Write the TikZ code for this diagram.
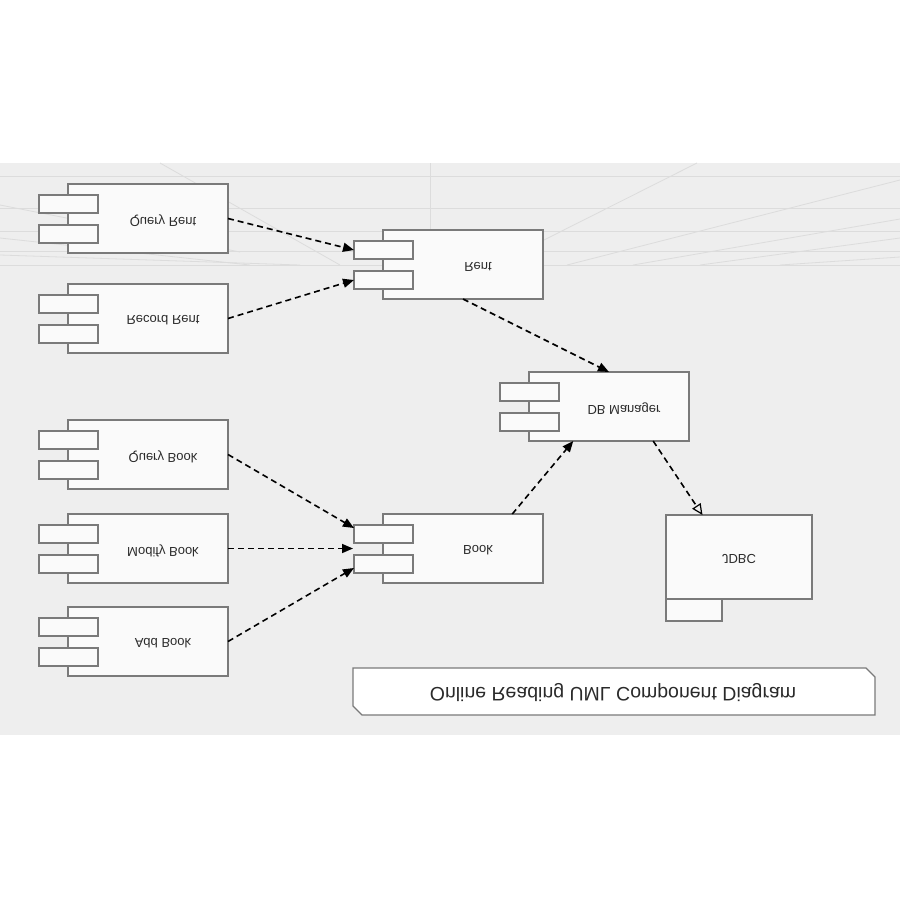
\documentclass[tikz,border=0pt]{standalone}
\usepackage{fontspec}
\setmainfont{Liberation Sans}
\usetikzlibrary{arrows.meta,calc}
\definecolor{bg}{HTML}{EEEEEE}
\definecolor{bgline}{HTML}{DCDCDC}
\definecolor{edge}{HTML}{7A7A7A}
\definecolor{boxfill}{HTML}{FAFAFA}
\definecolor{txt}{HTML}{2A2A2A}
\tikzset{
  compbox/.style={draw=edge, fill=boxfill, line width=1.2pt, minimum width=160pt, minimum height=69pt, inner sep=0pt, outer sep=0pt},
  tabbox/.style={draw=edge, fill=boxfill, line width=1.2pt, minimum width=59pt, minimum height=18pt, inner sep=0pt, outer sep=0pt},
  lbl/.style={text=txt, font=\fontsize{13}{15}\selectfont, inner sep=0pt},
  dep/.style={draw=black, line width=1.6pt, dash pattern=on 6pt off 4pt, -{Triangle[length=11pt,width=9pt]}},
  realz/.style={draw=black, line width=1.6pt, dash pattern=on 6pt off 4pt, -{Triangle[open,length=11pt,width=10pt,line width=1.2pt]}},
  bgl/.style={draw=bgline, line width=0.8pt}
}
\newcommand\flipit[1]{\scalebox{1}[-1]{#1}}
\newcommand\umlcomp[4]{%
  \node[compbox] (#1) at (#2,#3) {};
  \node[tabbox] (#1T1) at (#2-79.5,#3-14.5) {};
  \node[tabbox] (#1T2) at (#2-79.5,#3+15.5) {};
  \node[lbl] (#1L) at (#2+15,#3+2) {\flipit{#4}};
}
\begin{document}
\begin{tikzpicture}[x=1pt,y=-1pt]
\useasboundingbox (0,0) rectangle (900,900);
\fill[white] (0,0) rectangle (900,900);
\fill[bg] (0,163) rectangle (900,735);
% faint background lines
\foreach \yy in {176,208,231,251,265} \draw[bgl] (0,\yy) -- (900,\yy);
\draw[bgl] (430,163) -- (430,265);
\draw[bgl] (160,163) -- (340,265);
\draw[bgl] (0,205) -- (240,252);
\draw[bgl] (0,238) -- (250,265);
\draw[bgl] (0,255) -- (300,265);
\draw[bgl] (697,163) -- (540,242);
\draw[bgl] (900,180) -- (567,265);
\draw[bgl] (900,219) -- (633,265);
\draw[bgl] (900,238) -- (700,265);
\draw[bgl] (900,257) -- (780,265);

% components
\umlcomp{qrent}{148}{218.5}{Query Rent}
\umlcomp{rrent}{148}{318.5}{Record Rent}
\umlcomp{qbook}{148}{454.5}{Query Book}
\umlcomp{mbook}{148}{548.5}{Modify Book}
\umlcomp{abook}{148}{641.5}{Add Book}
\umlcomp{rent}{463}{264.5}{Rent}
\umlcomp{dbm}{609}{406.5}{DB Manager}
\umlcomp{book}{463}{548.5}{Book}

% JDBC
\node[compbox, minimum width=146pt, minimum height=84pt] (jdbc) at (739,557) {};
\node[tabbox, minimum width=56pt, minimum height=22pt] (jdbcT) at (694,610) {};
\node[lbl] (jdbcL) at (739,559) {\flipit{JDBC}};

% title
\draw[draw=edge, fill=white, line width=1.2pt] (353,668) -- (866,668) -- (875,677) -- (875,715) -- (362,715) -- (353,706) -- cycle;
\node[lbl, font=\fontsize{19.5}{22}\selectfont] (title) at (613,693) {\flipit{Online Reading UML Component Diagram}};

% connectors
\draw[dep] (qrent.east) -- (rentT1.west);
\draw[dep] (rrent.east) -- (rentT2.west);
\draw[dep] (rent.south) -- (dbm.north);
\draw[dep] (qbook.east) -- ([yshift=6pt]bookT1.west);
\draw[dep] (mbook.east) -- ([xshift=-30pt]book.west);
\draw[dep] (abook.east) -- ([yshift=-4pt]bookT2.west);
\draw[dep] (book.35) -- (dbm.224);
\draw[realz] (dbm.322) -- (jdbc.131);
\end{tikzpicture}
\end{document}
